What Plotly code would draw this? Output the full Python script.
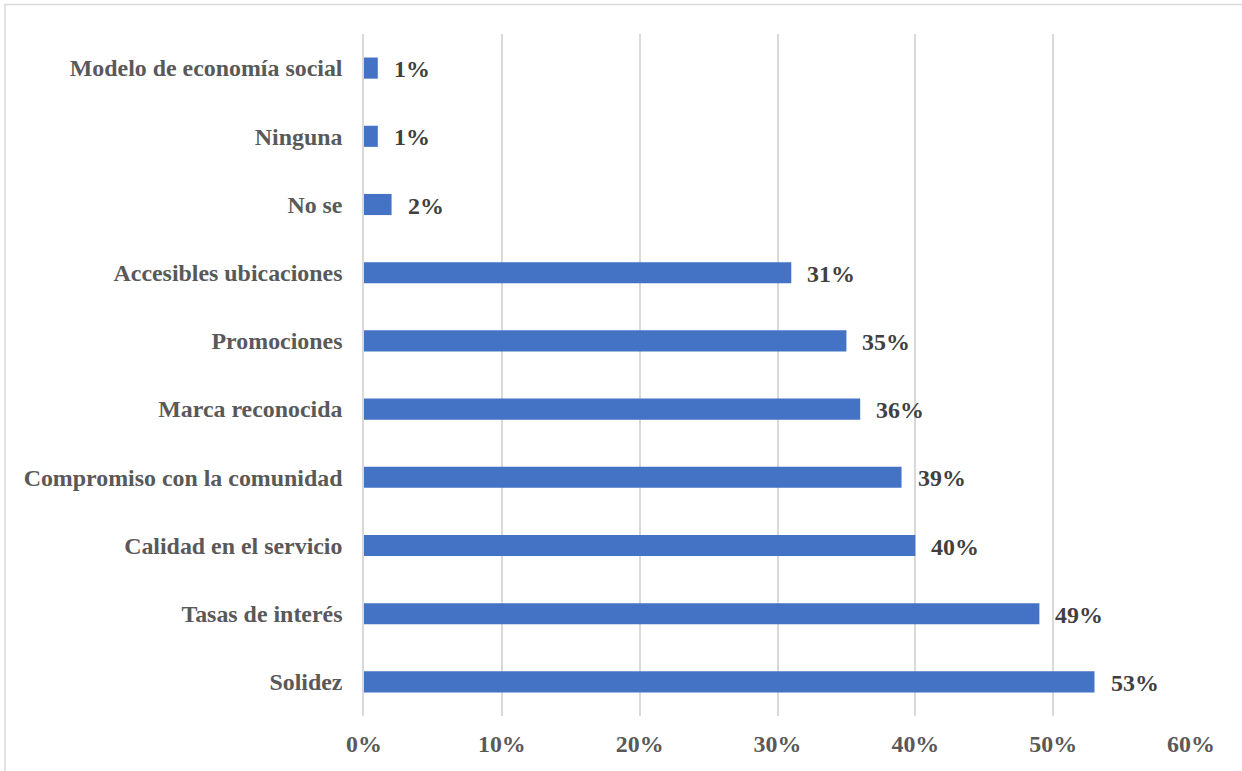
import plotly.graph_objects as go

categories = ["Solidez", "Tasas de interés", "Calidad en el servicio",
              "Compromiso con la comunidad", "Marca reconocida", "Promociones",
              "Accesibles ubicaciones", "No se", "Ninguna", "Modelo de economía social"]
values = [0.53, 0.49, 0.40, 0.39, 0.36, 0.35, 0.31, 0.02, 0.01, 0.01]
tick_vals = [0, 0.1, 0.2, 0.3, 0.4, 0.5, 0.6]
tick_text = ["0%", "10%", "20%", "30%", "40%", "50%", "60%"]

W, H = 1242, 771
ml, mr, mt, mb = 364, 51, 34, 55
font = "Liberation Serif, Times New Roman, serif"
fs = 23.9

fig = go.Figure()
fig.add_trace(go.Bar(
    x=values, y=categories, orientation="h",
    marker=dict(color="#4472C4", line=dict(width=0)),
    width=0.31, hoverinfo="skip",
))

annotations = []
for c, v in zip(categories, values):
    annotations.append(dict(
        x=v, y=c, xref="x", yref="y", text=f"{round(v*100)}%",
        showarrow=False, xanchor="left", yanchor="middle", xshift=14, yshift=-1,
        font=dict(family=font, size=fs, color="#404040", weight="bold"),
    ))

pw = W - ml - mr
ph = H - mt - mb
fig.add_shape(type="rect", xref="paper", yref="paper",
              x0=(5 - ml) / pw, x1=(W + 10 - ml) / pw,
              y0=-(H + 10 - mt - ph) / ph, y1=1 + (mt - 4.5) / ph,
              line=dict(color="#d9d9d9", width=1.5), fillcolor="rgba(0,0,0,0)", layer="below")

fig.update_layout(
    width=W, height=H,
    margin=dict(l=ml, r=mr, t=mt, b=mb, pad=0),
    plot_bgcolor="white", paper_bgcolor="white",
    showlegend=False,
    annotations=annotations,
    xaxis=dict(range=[0, 0.6], tickvals=tick_vals, ticktext=tick_text,
               showgrid=True, gridcolor="#d9d9d9", gridwidth=1.5,
               zeroline=False, showline=False, ticks="", ticklen=0,
               ticklabelstandoff=11, automargin=False,
               tickfont=dict(family=font, size=fs, color="#595959", weight="bold")),
    yaxis=dict(range=[-0.5, 9.5], showgrid=False, zeroline=False,
               showline=True, linecolor="#d9d9d9", linewidth=1.5,
               ticks="", ticklabelstandoff=15, automargin=False,
               tickfont=dict(family=font, size=fs, color="#595959", weight="bold")),
)

fig.write_html("out.html", config={"displayModeBar": False},
               post_script="document.body.style.margin='0';document.body.style.overflow='hidden';")
